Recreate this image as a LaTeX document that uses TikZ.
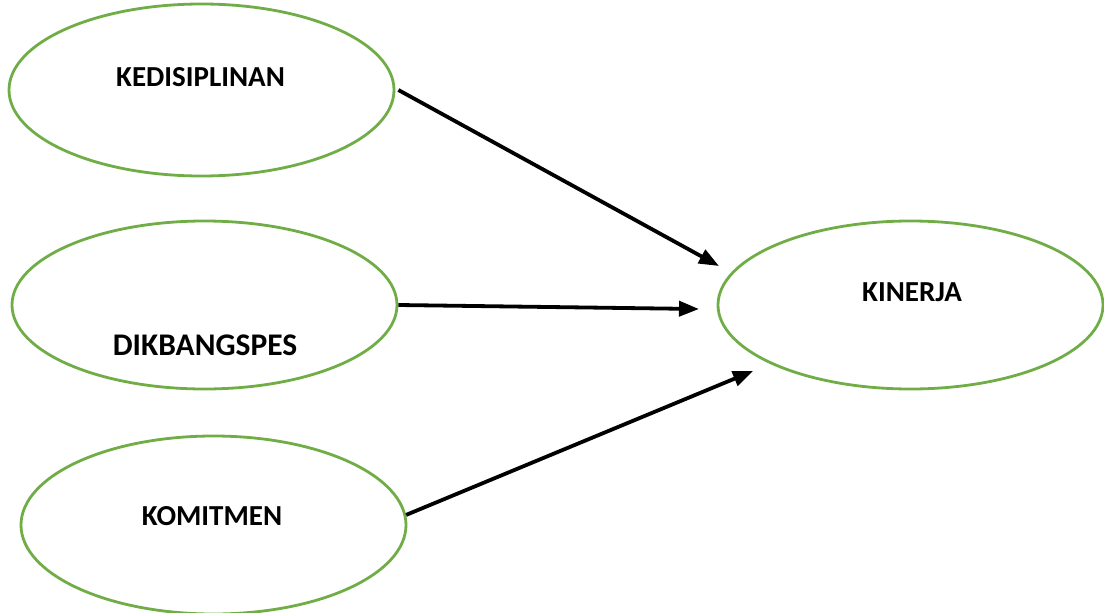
\documentclass[tikz,border=0pt]{standalone}
\usepackage{fontspec}
\setmainfont{Carlito}
\usetikzlibrary{shapes.geometric, arrows.meta, positioning}
\definecolor{ellgreen}{RGB}{112,173,71}
\tikzset{
>={Triangle[length=20pt, width=15pt]}, % makes the arrow heads bold
var/.style={ellipse, draw=ellgreen, line width=2.8pt, minimum width=385pt, minimum height=168pt, inner sep=0pt}, % the green ellipses
lbl/.style={font=\bfseries\fontsize{29}{34}\selectfont}, % the bold variable names
link/.style={->, line width=3.8pt}, % the black arrows
}

\begin{document}
\begin{tikzpicture}[x=1pt, y=-1pt]
    \useasboundingbox (0,0) rectangle (1104,613);

    \node[var, minimum height=172pt] (ked) at (201.5,90) {};
    \node[var] (dik) at (204.5,305) {};
    \node[var, minimum height=178pt] (kom) at (213.5,525) {};
    \node[var] (kin) at (910.5,305) {};

    \node[lbl] (kedtext) at (200.5,77) {KEDISIPLINAN};
    \node[lbl, font=\bfseries\fontsize{31.5}{36}\selectfont] (diktext) at (205,345) {DIKBANGSPES};
    \node[lbl] (komtext) at (212,516) {KOMITMEN};
    \node[lbl] (kintext) at (912,292) {KINERJA};

    \coordinate (kedtip) at (719,266);
    \coordinate (diktip) at (699,309);
    \coordinate (komtip) at (753,371);

    \draw[link] ([xshift=3pt]ked.east) -- (kedtip);
    \draw[link] (dik.east) -- (diktip);
    \draw[link] (kom.3) -- (komtip);
  \end{tikzpicture}
\end{document}
